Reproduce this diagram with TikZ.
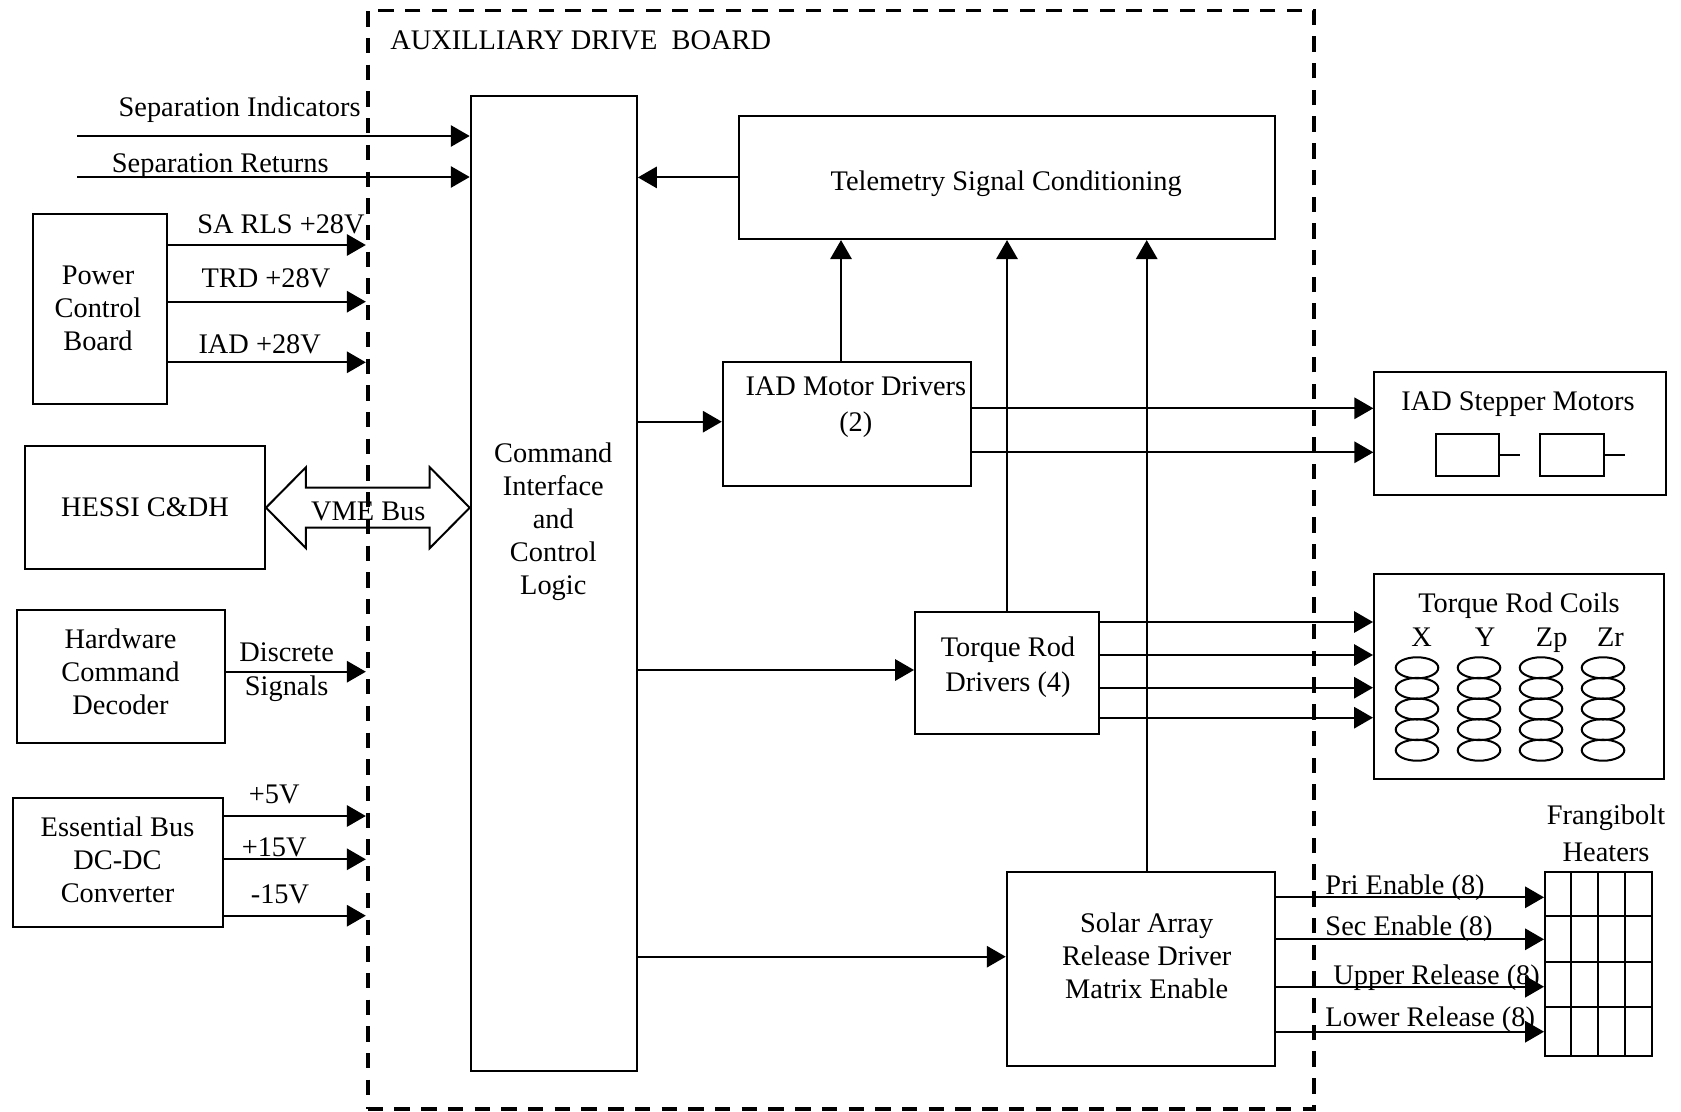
\documentclass[tikz,border=0pt]{standalone}
\usepackage{fontspec}
\setmainfont{Liberation Serif}
\usetikzlibrary{arrows.meta,positioning,calc}

\begin{document}
\begin{tikzpicture}[x=0.423pt, y=-0.423pt,
  font=\fontsize{12}{14}\selectfont,
  box/.style={rectangle, draw, line width=0.85pt, inner sep=0pt, align=center},
  board/.style={rectangle, draw, line width=1.6pt, dash pattern=on 6.5pt off 4.8pt, inner sep=0pt},
  txt/.style={align=center, inner sep=0pt},
  arrow/.style={-{Triangle[length=8pt,width=9pt]}, line width=0.85pt},
  wire/.style={line width=0.85pt}
]
\useasboundingbox (0,0) rectangle (1681,1112);

% board outline
\node[board, minimum width=400.4pt, minimum height=464.5pt] (adb) at (841,559.6) {};
\node[txt, anchor=base west] (adbtitle) at (390,50) {AUXILLIARY DRIVE~ BOARD};

% blocks on the board
\node[box, minimum width=70.3pt, minimum height=412.5pt] (cmd) at (553.8,583.4) {};
\node[txt] (cmdtxt) at (553.3,521.5) {Command\\Interface\\and\\Control\\Logic};
\node[box, minimum width=226.8pt, minimum height=52.2pt] (tlm) at (1006.6,177.4) {};
\node[txt, anchor=base] (tlmtxt) at (1006.2,190.5) {Telemetry Signal Conditioning};
\node[box, minimum width=105pt, minimum height=52.3pt] (iad) at (846.9,423.9) {};
\node[txt] (iadtxt) at (855.8,407) {IAD Motor Drivers\\[1.5pt](2)};
\node[box, minimum width=77.8pt, minimum height=51.7pt] (trd) at (1007,672.9) {};
\node[txt] (trdtxt) at (1008,667) {Torque Rod\\[0.8pt]Drivers (4)};
\node[box, minimum width=113.5pt, minimum height=81.8pt] (sad) at (1140.9,969) {};
\node[txt] (sadtxt) at (1146.7,956) {Solar Array\\Release Driver\\Matrix Enable};

% sources on the left
\node[box, minimum width=56.6pt, minimum height=80.5pt] (pcb) at (99.9,309.2) {};
\node[txt] (pcbtxt) at (98,308) {Power\\Control\\Board};
\node[box, minimum width=101.5pt, minimum height=52.2pt] (cdh) at (145,507.7) {HESSI C\&DH};
\node[box, minimum width=88.1pt, minimum height=56.4pt] (hcd) at (120.9,676.7) {};
\node[txt] (hcdtxt) at (120.5,672) {Hardware\\Command\\Decoder};
\node[box, minimum width=88.6pt, minimum height=54.6pt] (ebc) at (118,862.8) {};
\node[txt] (ebctxt) at (117.5,859.5) {Essential Bus\\DC-DC\\Converter};

% loads on the right
\node[box, minimum width=123.4pt, minimum height=51.9pt] (ism) at (1520.2,433.7) {};
\node[txt, anchor=base] (ismtxt) at (1518,410.5) {IAD Stepper Motors};
\node[box, minimum width=26.8pt, minimum height=17.8pt] (mot1) at (1467.7,455) {};
\node[box, minimum width=26.8pt, minimum height=17.8pt, right=16.5pt of mot1] (mot2) {};
\draw[wire] (mot1.east) -- ++(20,0);
\draw[wire] (mot2.east) -- ++(20,0);

\node[box, minimum width=122.5pt, minimum height=86.7pt] (trc) at (1518.8,676.5) {};
\node[txt, anchor=base] (trctxt) at (1519,612.7) {Torque Rod Coils};
\foreach \cl/\lx in {X/1421.7, Y/1485, Zp/1551.7, Zr/1610.5}
  \node[txt, anchor=base] (coil\cl) at (\lx,646) {\cl};
\foreach \cx in {1417,1479,1541,1603}
  \foreach \k in {0,...,4}
    \draw[wire] (\cx,667.8+\k*20.6) ellipse [x radius=9pt, y radius=4.45pt];

\node[box, minimum width=45.4pt, minimum height=78pt] (fhb) at (1598.7,963.9) {};
\foreach \gx in {1570.7,1598.3,1625} \draw[wire] (\gx,871.7) -- (\gx,1056);
\foreach \gy in {916,961.7,1007.3} \draw[wire] (1545,\gy) -- (1652.3,\gy);
\node[txt] (fhbtxt) at (1606,833) {Frangibolt\\[1.6pt]Heaters};

% VME bus
\coordinate (vmeR) at (cmd.west |- cdh.east);
\draw[wire] (cdh.east) -- ++(40,-40.5) -- ++(0,20.5) -- ($(vmeR)+(-40,-20)$) -- ++(0,-20.5)
  -- (vmeR) -- ++(-40,40.5) -- ++(0,-20.5) -- ($(cdh.east)+(40,20)$) -- ++(0,20.5) -- cycle;
\node[txt, anchor=base] (vme) at (368.3,520) {VME Bus};

% separation lines
\coordinate (sepin) at (77,136);
\coordinate (sepret) at (77,177);
\draw[arrow] (sepin) -- (sepin -| cmd.west);
\draw[arrow] (sepret) -- (sepret -| cmd.west);
\node[txt, anchor=base east] (lsepind) at (361,116.5) {Separation Indicators};
\node[txt, anchor=base] (lsepret) at (220.3,172.5) {Separation Returns};

% power in
\draw[arrow] (pcb.east |- 0,245) -- (adb.west |- 0,245);
\draw[arrow] (pcb.east |- 0,301.7) -- (adb.west |- 0,301.7);
\draw[arrow] (pcb.east |- 0,362.3) -- (adb.west |- 0,362.3);
\node[txt, anchor=base] (lsarls) at (281,233.3) {SA RLS +28V};
\node[txt, anchor=base] (ltrd) at (266,287.3) {TRD +28V};
\node[txt, anchor=base] (liad) at (259.7,353.3) {IAD +28V};

\draw[arrow] (hcd.east |- 0,671.7) -- (adb.west |- 0,671.7);
\node[txt] (ldisc) at (286.7,672) {Discrete\\[0.4pt]Signals};

\draw[arrow] (ebc.east |- 0,816) -- (adb.west |- 0,816);
\draw[arrow] (ebc.east |- 0,859.3) -- (adb.west |- 0,859.3);
\draw[arrow] (ebc.east |- 0,915.7) -- (adb.west |- 0,915.7);
\node[txt, anchor=base] (l5v) at (274.2,803.3) {+5V};
\node[txt, anchor=base] (l15v) at (274.2,856.7) {+15V};
\node[txt, anchor=base] (lm15v) at (280,903.3) {-15V};

% command logic out
\draw[arrow] (tlm.west) -- (tlm.west -| cmd.east);
\draw[arrow] (cmd.east |- 0,421.7) -- (iad.west |- 0,421.7);
\draw[arrow] (cmd.east |- 0,670) -- (trd.west |- 0,670);
\draw[arrow] (cmd.east |- 0,956.7) -- (sad.west |- 0,956.7);

% telemetry
\draw[arrow] (841,0 |- iad.north) -- (841,0 |- tlm.south);
\draw[arrow] (trd.north) -- (trd.north |- tlm.south);
\draw[arrow] (1146.7,0 |- sad.north) -- (1146.7,0 |- tlm.south);

% drivers out
\draw[arrow] (iad.east |- 0,408.3) -- (ism.west |- 0,408.3);
\draw[arrow] (iad.east |- 0,452.3) -- (ism.west |- 0,452.3);
\foreach \ty in {622,655,687.7,717.7}
  \draw[arrow] (trd.east |- 0,\ty) -- (trc.west |- 0,\ty);
\foreach \fy in {897.3,939.3,986.7,1031.7}
  \draw[arrow] (sad.east |- 0,\fy) -- (fhb.west |- 0,\fy);
\node[txt, anchor=base west] (lpri) at (1325,894.3) {Pri Enable (8)};
\node[txt, anchor=base west] (lsec) at (1325,935) {Sec Enable (8)};
\node[txt, anchor=base west] (lupr) at (1333,984.3) {Upper Release (8)};
\node[txt, anchor=base west] (llwr) at (1325,1026.7) {Lower Release (8)};
\end{tikzpicture}
\end{document}
